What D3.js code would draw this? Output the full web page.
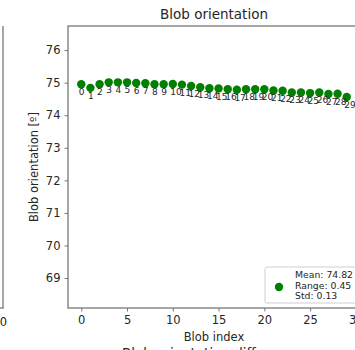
<!DOCTYPE html>
<html>
<head>
<meta charset="utf-8">
<script src="https://cdn.jsdelivr.net/npm/d3@7"></script>
<style>
  body { margin: 0; background: #fff; }
  svg { font-family: "DejaVu Sans", sans-serif; }
</style>
</head>
<body>
<div id="chart"></div>
<script>
// blob orientation per blob index (degrees)
const blobIndex = d3.range(30);
const orientation = [
  74.95, 74.84, 74.95, 75.01, 75.01, 75.01, 74.99, 74.98, 74.95, 74.95,
  74.96, 74.94, 74.90, 74.86, 74.83, 74.82, 74.80, 74.78, 74.80, 74.80,
  74.80, 74.76, 74.75, 74.70, 74.70, 74.68, 74.70, 74.65, 74.66, 74.56
];
const xTicks = [0, 5, 10, 15, 20, 25, 30];
const yTicks = [69, 70, 71, 72, 73, 74, 75, 76];
const legendLines = ["Mean: 74.82", "Range: 0.45", "Std: 0.13"];

const width = 355, height = 350;
const margin = { top: 26, left: 68, bottom: 308, right: 360 };
const spineColor = "#777";

const svg = d3.select("#chart").append("svg")
  .attr("width", width)
  .attr("height", height);

const x = d3.scaleLinear().domain([-1.45, 30.45]).range([margin.left, margin.right]);
const y = d3.scaleLinear().domain([68.08, 76.74]).range([margin.bottom, margin.top]);

// neighbouring subplot edge (clipped at the left)
svg.append("line")
  .attr("x1", 3).attr("x2", 3).attr("y1", margin.top).attr("y2", margin.bottom)
  .attr("stroke", spineColor).attr("stroke-width", 1.3);
svg.append("line")
  .attr("x1", 0).attr("x2", 3.6).attr("y1", margin.bottom).attr("y2", margin.bottom)
  .attr("stroke", spineColor).attr("stroke-width", 1.3);
svg.append("text")
  .attr("x", 7).attr("y", 326)
  .attr("text-anchor", "end")
  .attr("font-size", 11.5).attr("fill", "#262626")
  .text("0");

// axes frame
svg.append("rect")
  .attr("x", margin.left).attr("y", margin.top)
  .attr("width", margin.right - margin.left)
  .attr("height", margin.bottom - margin.top)
  .attr("fill", "none").attr("stroke", spineColor).attr("stroke-width", 1.3);

const xAxis = svg.append("g")
  .attr("transform", `translate(0,${margin.bottom})`)
  .call(d3.axisBottom(x).tickValues(xTicks).tickSize(3.5).tickPadding(4).tickFormat(d3.format("d")));
const yAxis = svg.append("g")
  .attr("transform", `translate(${margin.left},0)`)
  .call(d3.axisLeft(y).tickValues(yTicks).tickSize(3.5).tickPadding(4).tickFormat(d3.format("d")));

[xAxis, yAxis].forEach(g => {
  g.select(".domain").remove();
  g.selectAll(".tick line").attr("stroke", spineColor).attr("stroke-width", 1);
  g.selectAll(".tick text")
    .attr("font-size", 11.5)
    .attr("font-family", "DejaVu Sans, sans-serif")
    .attr("fill", "#262626");
});

// points
svg.append("g").selectAll("circle")
  .data(blobIndex)
  .join("circle")
  .attr("cx", i => x(i))
  .attr("cy", i => y(orientation[i]))
  .attr("r", 4.2)
  .attr("fill", "#008000");

// index labels under each point
svg.append("g").selectAll("text")
  .data(blobIndex)
  .join("text")
  .attr("x", i => x(i) - 2.5)
  .attr("y", i => y(orientation[i]) + 11)
  .attr("font-size", 9)
  .attr("fill", "#262626")
  .text(i => i);

// titles
svg.append("text")
  .attr("x", (margin.left + margin.right) / 2).attr("y", 19)
  .attr("text-anchor", "middle").attr("font-size", 13.5).attr("fill", "#262626")
  .text("Blob orientation");
svg.append("text")
  .attr("x", (margin.left + margin.right) / 2).attr("y", 341)
  .attr("text-anchor", "middle").attr("font-size", 11.5).attr("fill", "#262626")
  .text("Blob index");
svg.append("text")
  .attr("transform", `translate(38,${(margin.top + margin.bottom) / 2}) rotate(-90)`)
  .attr("text-anchor", "middle").attr("font-size", 11.5).attr("fill", "#262626")
  .text("Blob orientation [º]");
// next subplot title, clipped at the bottom
svg.append("text")
  .attr("x", 122).attr("y", 358)
  .attr("font-size", 13.5).attr("fill", "#262626")
  .text("Blob orientation difference");

// legend
const legend = svg.append("g").attr("transform", "translate(265,267)");
legend.append("rect")
  .attr("width", 110).attr("height", 36).attr("rx", 2)
  .attr("fill", "#fff").attr("fill-opacity", 0.8)
  .attr("stroke", "#d0d0d0").attr("stroke-width", 1);
legend.append("circle")
  .attr("cx", 14).attr("cy", 20).attr("r", 4.2).attr("fill", "#008000");
legend.selectAll("text.line")
  .data(legendLines)
  .join("text")
  .attr("class", "line")
  .attr("x", 30)
  .attr("y", (d, i) => 11 + i * 10.5)
  .attr("font-size", 9.3)
  .attr("fill", "#262626")
  .text(d => d);
</script>
</body>
</html>
